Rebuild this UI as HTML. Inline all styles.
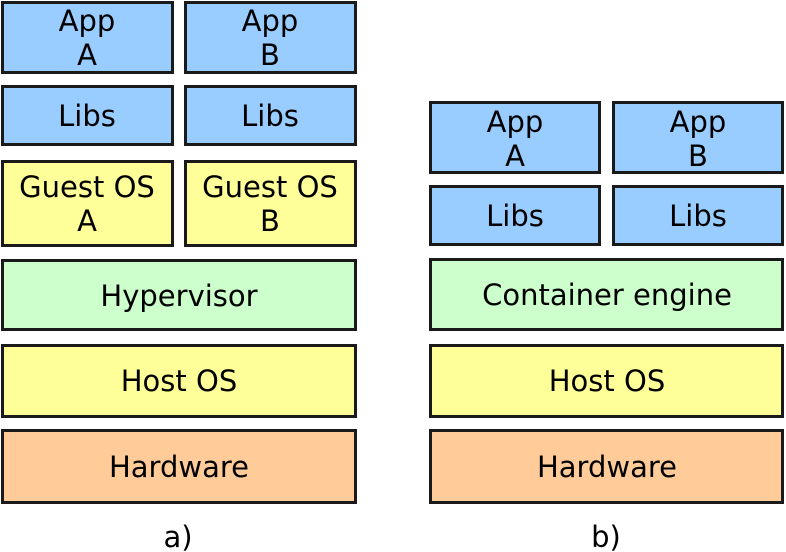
<!DOCTYPE html>
<html><head><meta charset="utf-8"><style>html,body{margin:0;padding:0;background:#fff}svg{display:block}</style></head>
<body>
<svg width="786" height="552" viewBox="0 0 786 552" xmlns="http://www.w3.org/2000/svg" font-family="DejaVu Sans, Liberation Sans, sans-serif" font-size="29" text-anchor="middle" fill="#000">
<g stroke="#1a1a1a" stroke-width="3">
<rect x="2.5" y="2.5" width="170" height="70" fill="#99ccff"/>
<rect x="185.5" y="2.5" width="170" height="70" fill="#99ccff"/>
<rect x="2.5" y="86.5" width="170" height="58" fill="#99ccff"/>
<rect x="185.5" y="86.5" width="170" height="58" fill="#99ccff"/>
<rect x="2.5" y="161.5" width="170" height="84" fill="#ffff99"/>
<rect x="185.5" y="161.5" width="170" height="84" fill="#ffff99"/>
<rect x="2.5" y="260.5" width="353" height="69" fill="#ccffcc"/>
<rect x="2.5" y="345.5" width="353" height="71" fill="#ffff99"/>
<rect x="2.5" y="430.5" width="353" height="72" fill="#ffcc99"/>
<rect x="430.5" y="102.5" width="169" height="70" fill="#99ccff"/>
<rect x="613.5" y="102.5" width="169" height="70" fill="#99ccff"/>
<rect x="430.5" y="186.5" width="169" height="58" fill="#99ccff"/>
<rect x="613.5" y="186.5" width="169" height="58" fill="#99ccff"/>
<rect x="430.5" y="259.5" width="352" height="70" fill="#ccffcc"/>
<rect x="430.5" y="345.5" width="352" height="71" fill="#ffff99"/>
<rect x="430.5" y="430.5" width="352" height="72" fill="#ffcc99"/>
</g>
<g stroke="none">
<text x="87" y="31">App</text><text x="87" y="65">A</text>
<text x="270" y="31">App</text><text x="270" y="65">B</text>
<text x="87" y="126">Libs</text><text x="270" y="126">Libs</text>
<text x="87" y="197">Guest OS</text><text x="87" y="231">A</text>
<text x="270" y="197">Guest OS</text><text x="270" y="231">B</text>
<text x="179" y="306">Hypervisor</text>
<text x="179" y="391">Host OS</text>
<text x="179" y="477">Hardware</text>
<text x="515" y="132">App</text><text x="515" y="166">A</text>
<text x="698" y="132">App</text><text x="698" y="166">B</text>
<text x="515" y="226">Libs</text><text x="698" y="226">Libs</text>
<text x="607" y="305">Container engine</text>
<text x="607" y="391">Host OS</text>
<text x="607" y="477">Hardware</text>
<text x="178" y="547">a)</text>
<text x="606" y="547">b)</text>
</g>
</svg>
</body></html>
